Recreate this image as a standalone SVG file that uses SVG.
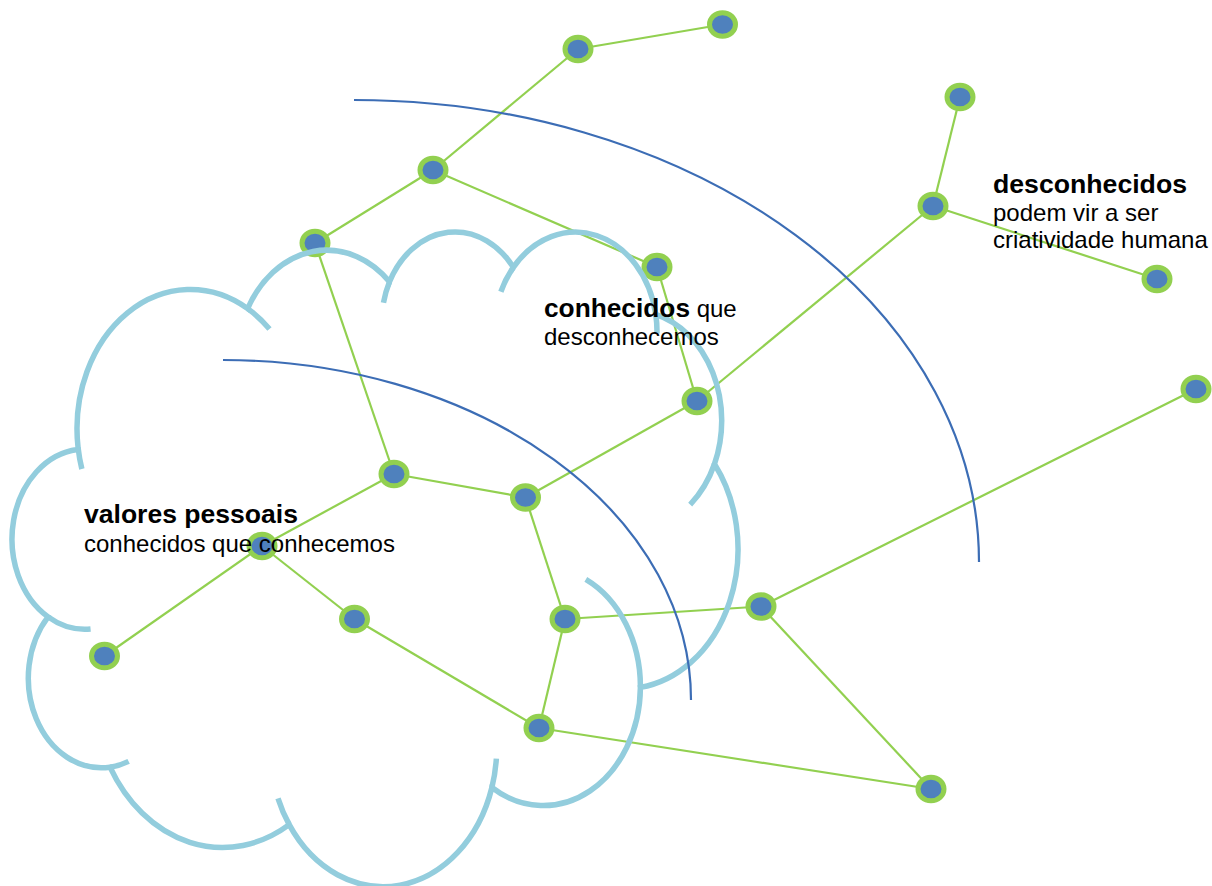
<svg xmlns="http://www.w3.org/2000/svg" width="1212" height="886" viewBox="0 0 1212 886">
<style>
.cn{stroke:#92D050;stroke-width:2.2;fill:none}
.nd{fill:#4F81BD;stroke:#92D050;stroke-width:5}
.cl{fill:none;stroke:#93CDDD;stroke-width:5.5;vector-effect:non-scaling-stroke}
.arc{fill:none;stroke:#3C6DB5;stroke-width:2.2}
.t{font-family:"Liberation Sans",Arial,sans-serif;font-size:24px;fill:#000}
.b{font-weight:bold;font-size:25px}
</style>
<rect width="1212" height="886" fill="#fff"/>
<g id="connectors">
<line class="cn" x1="578" y1="49" x2="722.5" y2="24.5"/>
<line class="cn" x1="578" y1="49" x2="433" y2="170"/>
<line class="cn" x1="433" y1="170" x2="315" y2="243"/>
<line class="cn" x1="433" y1="170" x2="657" y2="267"/>
<line class="cn" x1="315" y1="243" x2="394" y2="474"/>
<line class="cn" x1="657" y1="267" x2="697" y2="401"/>
<line class="cn" x1="960" y1="97" x2="933" y2="206"/>
<line class="cn" x1="933" y1="206" x2="1157" y2="279"/>
<line class="cn" x1="933" y1="206" x2="697" y2="401"/>
<line class="cn" x1="697" y1="401" x2="525.5" y2="497.5"/>
<line class="cn" x1="394" y1="474" x2="525.5" y2="497.5"/>
<line class="cn" x1="394" y1="474" x2="262" y2="546"/>
<line class="cn" x1="525.5" y1="497.5" x2="565" y2="619"/>
<line class="cn" x1="262" y1="546" x2="354.5" y2="619"/>
<line class="cn" x1="262" y1="546" x2="104.5" y2="656"/>
<line class="cn" x1="354.5" y1="619" x2="539" y2="728"/>
<line class="cn" x1="565" y1="619" x2="761" y2="606.5"/>
<line class="cn" x1="565" y1="619" x2="539" y2="728"/>
<line class="cn" x1="761" y1="606.5" x2="1196" y2="389"/>
<line class="cn" x1="761" y1="606.5" x2="931" y2="789"/>
<line class="cn" x1="539" y1="728" x2="931" y2="789"/>
</g>
<g id="n1"><ellipse class="nd" cx="578" cy="49" rx="13" ry="11.8"/></g>
<g id="n2"><ellipse class="nd" cx="722.5" cy="24.5" rx="13" ry="11.8"/></g>
<g id="n3"><ellipse class="nd" cx="433" cy="170" rx="13" ry="11.8"/></g>
<g id="n4"><ellipse class="nd" cx="315" cy="243" rx="13" ry="11.8"/></g>
<g id="n5"><ellipse class="nd" cx="657" cy="267" rx="13" ry="11.8"/></g>
<g id="n6"><ellipse class="nd" cx="960" cy="97" rx="13" ry="11.8"/></g>
<g id="n7"><ellipse class="nd" cx="933" cy="206" rx="13" ry="11.8"/></g>
<g id="n8"><ellipse class="nd" cx="1157" cy="279" rx="13" ry="11.8"/></g>
<g id="n9"><ellipse class="nd" cx="1196" cy="389" rx="13" ry="11.8"/></g>
<g id="n10"><ellipse class="nd" cx="697" cy="401" rx="13" ry="11.8"/></g>
<g id="n11"><ellipse class="nd" cx="394" cy="474" rx="13" ry="11.8"/></g>
<g id="n12"><ellipse class="nd" cx="525.5" cy="497.5" rx="13" ry="11.8"/></g>
<g id="n13"><ellipse class="nd" cx="262" cy="546" rx="13" ry="11.8"/></g>
<g id="n14"><ellipse class="nd" cx="354.5" cy="619" rx="13" ry="11.8"/></g>
<g id="n15"><ellipse class="nd" cx="565" cy="619" rx="13" ry="11.8"/></g>
<g id="n16"><ellipse class="nd" cx="761" cy="606.5" rx="13" ry="11.8"/></g>
<g id="n17"><ellipse class="nd" cx="104.5" cy="656" rx="13" ry="11.8"/></g>
<g id="n18"><ellipse class="nd" cx="539" cy="728" rx="13" ry="11.8"/></g>
<g id="n19"><ellipse class="nd" cx="931" cy="789" rx="13" ry="11.8"/></g>
<g id="cloud" transform="translate(12.6,229.8) scale(0.016784,0.01515)">
<path class="cl" d="M3900 14370 A6753 9190 0 0 1 14005.1 5202 A5333 7267 0 0 1 22456 3432.1 A4365 5945 0 0 1 29832.9 2480.8 A4857 6595 0 0 1 38318.1 5575.9 A5333 7273 0 0 1 41818.5 15459.7 A6775 9220 0 0 1 37404.4 30203.1 A5785 7867 0 0 1 28556.1 36813.3 A6752 9215 0 0 1 16480.6 39264.3 A7720 10543 0 0 1 5805 35470.1 A4360 5918 0 0 1 2113.5 25548.2 A4345 5945 0 0 1 3863.5 14504.6 Z"/>
<path class="cl" d="M4646.6 26345.3 A4345 5945 0 0 1 2113.5 25548.2 M6913.2 35088.5 A4360 5918 0 0 1 5805 35470.1 M16480.6 39264.3 A6752 9215 0 0 1 15812.8 37524.2 M28822.7 34904.1 A6752 9215 0 0 1 28556.1 36813.3 M34153 23067.4 A5785 7867 0 0 1 37404.4 30203.1 M41818.5 15459.7 A5333 7273 0 0 1 40370.6 18135.3 M38318.1 5575.9 A4857 6595 0 0 1 38394.6 6839.6 M29091.3 4092.4 A4857 6595 0 0 1 29832.9 2480.8 M22096.8 4821.9 A4365 5945 0 0 1 22456 3432.1 M14005.1 5202 A6753 9190 0 0 1 15305 6550.4 M4127 15788.6 A6753 9190 0 0 1 3900 14370"/>
</g>
<path class="arc" d="M354 100 A625 462 0 0 1 979 562"/>
<path class="arc" d="M223 360 A468 340 0 0 1 691 700"/>
<text class="t" x="84" y="523"><tspan class="b" textLength="214" lengthAdjust="spacingAndGlyphs">valores pessoais</tspan></text>
<text class="t" x="84" y="552">conhecidos que conhecemos</text>
<text class="t" x="544" y="317"><tspan class="b" textLength="146" lengthAdjust="spacingAndGlyphs">conhecidos</tspan> que</text>
<text class="t" x="544" y="345">desconhecemos</text>
<text class="t" x="993" y="193"><tspan class="b" textLength="194" lengthAdjust="spacingAndGlyphs">desconhecidos</tspan></text>
<text class="t" x="993" y="221">podem vir a ser</text>
<text class="t" x="993" y="248">criatividade humana</text>
</svg>
